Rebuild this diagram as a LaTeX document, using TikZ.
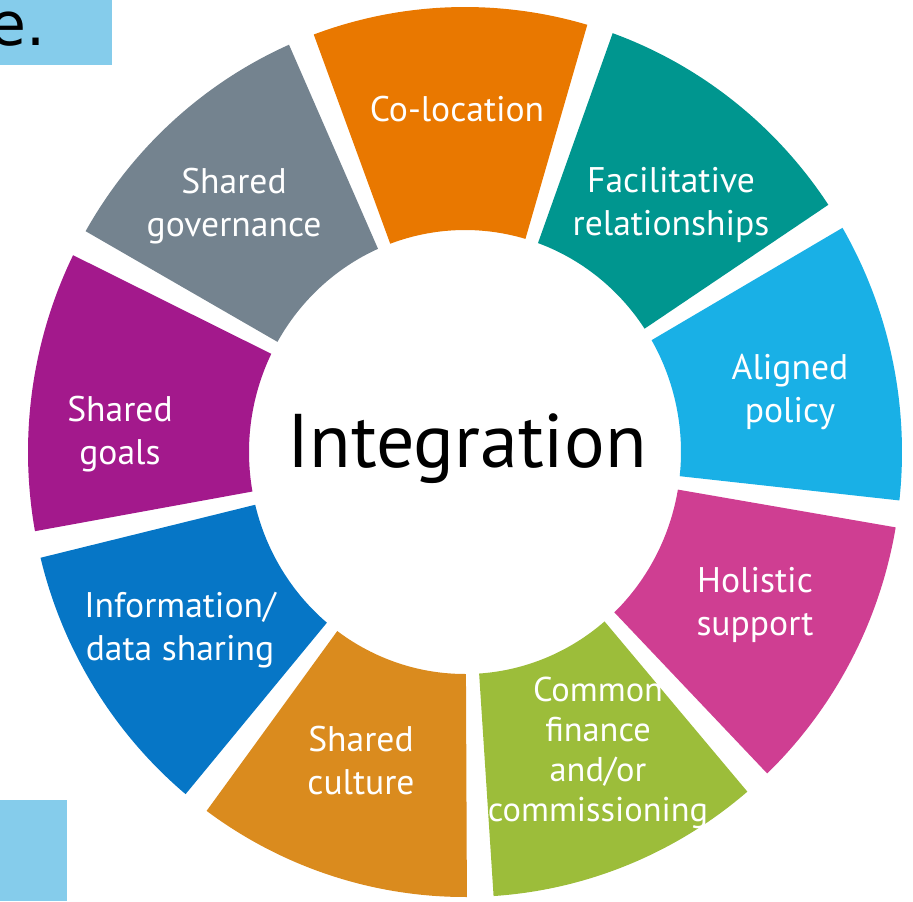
\documentclass[tikz,border=0pt]{standalone}
\usepackage{fontspec}
\setmainfont{PT Sans}
\newfontfamily\cutfont{DejaVu Sans}
\usepackage{tikz}

\definecolor{boxblue}{HTML}{85CCEB}
\definecolor{colocation}{HTML}{E97800}
\definecolor{facilitative}{HTML}{00968F}
\definecolor{aligned}{HTML}{19B0E6}
\definecolor{holistic}{HTML}{CF3E92}
\definecolor{finance}{HTML}{9CBD3A}
\definecolor{culture}{HTML}{DA8B1E}
\definecolor{datashare}{HTML}{0676C6}
\definecolor{goals}{HTML}{A3198C}
\definecolor{governance}{HTML}{74838F}

\begin{document}
\begin{tikzpicture} [x=0.5pt, y=0.5pt,
                    segtext/.style={text=white,align=center,font=\fontsize{17.8}{21.5}\selectfont},
                    hub/.style={font=\fontsize{38}{44}\selectfont}]

\useasboundingbox (-465,-449) rectangle (448,452);
\clip (-465,-449) rectangle (448,452);

\fill[boxblue] (-465,452) rectangle (-353,387);
\node[anchor=base east, inner sep=0pt, font=\cutfont\fontsize{30}{36}\selectfont] (cut) at (-419,407) {e.};
\fill[boxblue] (-465,-348) rectangle (-398,-449);

% wheel
\foreach \mid/\col in {92/colocation, 52/facilitative, 12/aligned, -28/holistic, -68/finance,
                       -108/culture, -148/datashare, 172/goals, 132/governance}
  \fill[\col] ({\mid-18.25}:437 and 445)
     arc[start angle=\mid-18.25, end angle=\mid+18.25, x radius=437, y radius=445]
     -- ({\mid+18.25}:216 and 222)
     arc[start angle=\mid+18.25, end angle=\mid-18.25, x radius=216, y radius=222] -- cycle;

\node[segtext] (coloc) at (-8,343) {Co-location};
\node[segtext] (facil) at (206,247) {Facilitative\\relationships};
\node[segtext] (policy) at (325,60) {Aligned\\policy};
\node[segtext] (support) at (290,-153) {Holistic\\support};
\node[segtext, font=\fontsize{17.2}{20}\selectfont] (finance) at (133,-301) {Common\\finance\\and/or\\commissioning};
\node[segtext] (culture) at (-104,-309) {Shared\\culture};
\node[segtext] (info) at (-285,-178) {Information/\\data sharing};
\node[segtext] (goals) at (-345,18) {Shared\\goals};
\node[segtext] (gov) at (-231,246) {Shared\\governance};

\node[hub] (integ) at (2,3) {Integration};
\end{tikzpicture}
\end{document}
